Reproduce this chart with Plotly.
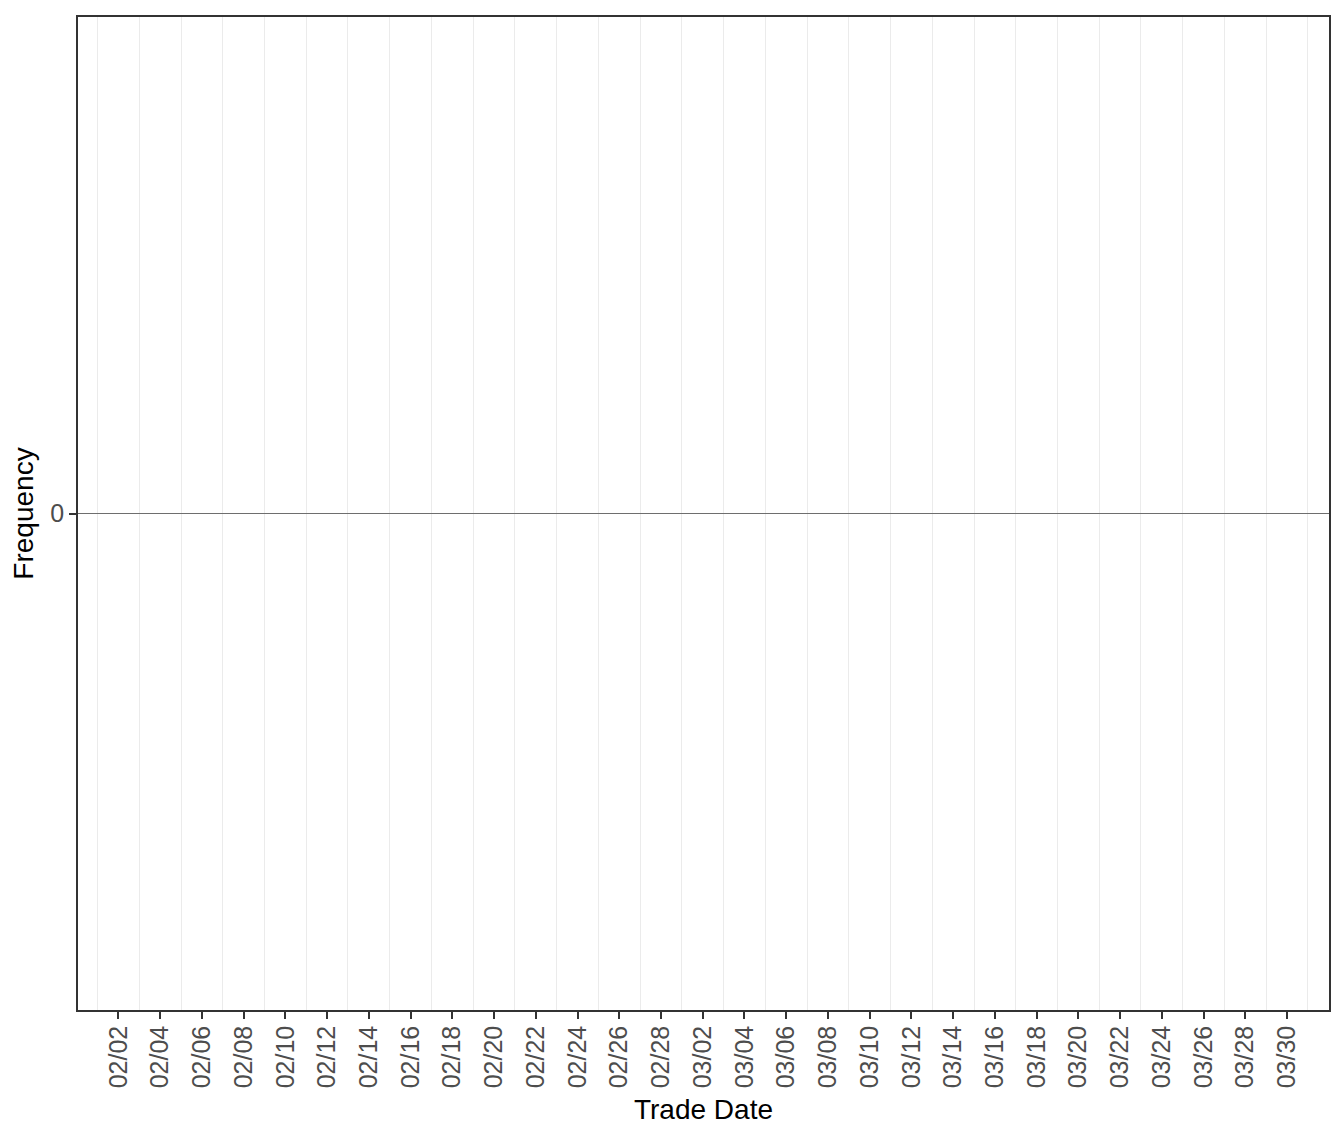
import pandas as pd
import plotly.graph_objects as go

# --------------------------------------Data--------------------------------------#
# Trade dates in the window (weekdays only); nothing traded, so every count is 0.
trade_dates = pd.bdate_range('2021-02-01', '2021-03-31').strftime('%Y-%m-%d').tolist()
frequency = [0 for _ in trade_dates]

# x tick labels every 2 days, grid lines on the days in between
tick_dates = pd.date_range('2021-02-02', '2021-03-30', freq='2D').strftime('%Y-%m-%d').tolist()
tick_labels = pd.to_datetime(tick_dates).strftime('%m/%d').tolist()
grid_dates = pd.date_range('2021-02-01', '2021-03-31', freq='2D').strftime('%Y-%m-%d').tolist()

y_ticks = [0]

# --------------------------------------Plot--------------------------------------#
fig = go.Figure()
fig.add_trace(go.Bar(x=trade_dates, y=frequency,
                     marker=dict(color='#595959', line=dict(width=0)),
                     showlegend=False))

# page body keeps an 8px margin, so the figure is sized to leave the panel where it belongs
fig.update_layout(
    width=1336,
    height=1134,
    margin=dict(l=70, r=15, t=7, b=132),
    paper_bgcolor='white',
    plot_bgcolor='white',
    font=dict(family='Liberation Sans, Arial, sans-serif', color='black'),
)

fig.update_xaxes(
    type='date',
    range=['2021-01-31 01:30', '2021-04-01 00:15'],
    tickmode='array',
    tickvals=tick_dates,
    ticktext=tick_labels,
    tickangle=-90,
    tickfont=dict(size=25, color='#4D4D4D'),
    ticklabelstandoff=-3,
    ticks='outside', ticklen=7, tickwidth=2, tickcolor='#333333',
    showgrid=False,
    minor=dict(tickmode='array', tickvals=grid_dates, showgrid=True,
               gridcolor='#EBEBEB', gridwidth=1, ticks=''),
    showline=True, linecolor='#333333', linewidth=1.5, mirror=True,
    zeroline=False,
    title=dict(text='Trade Date', font=dict(size=28, color='black'), standoff=12),
)

fig.update_yaxes(
    range=[-1, 1],
    tickmode='array',
    tickvals=y_ticks,
    ticktext=[str(v) for v in y_ticks],
    tickfont=dict(size=25, color='#4D4D4D'),
    ticks='outside', ticklen=7, tickwidth=2, tickcolor='#333333',
    showgrid=False,
    zeroline=True, zerolinecolor='#6E6E6E', zerolinewidth=1,
    showline=True, linecolor='#333333', linewidth=1.5, mirror=True,
    title=dict(text='Frequency', font=dict(size=28, color='black'), standoff=10),
)

fig.write_html("out.html")
